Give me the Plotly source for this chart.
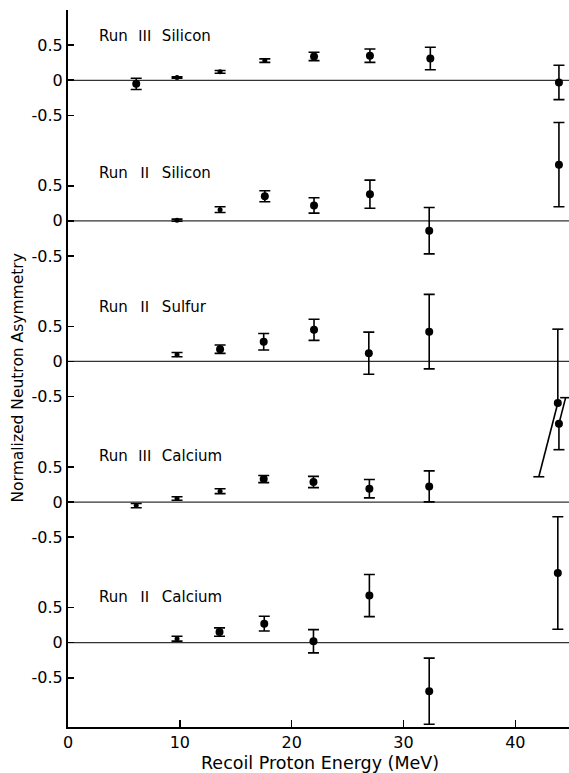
import plotly.graph_objects as go

# ---------------- data ----------------
NUM = "<span style=\"font-family:'Noto Sans CJK JP'\">{}</span>"
panel_labels = ["Run\u00a0\u00a0" + NUM.format("Ⅲ") + "\u00a0\u00a0Silicon",
                "Run\u00a0\u00a0" + NUM.format("Ⅱ") + "\u00a0\u00a0Silicon",
                "Run\u00a0\u00a0" + NUM.format("Ⅱ") + "\u00a0\u00a0Sulfur",
                "Run\u00a0\u00a0" + NUM.format("Ⅲ") + "\u00a0\u00a0Calcium",
                "Run\u00a0\u00a0" + NUM.format("Ⅱ") + "\u00a0\u00a0Calcium"]
panel_offsets = [8, 6, 4, 2, 0]          # vertical stacking offset of each panel's zero
label_heights = [0.65, 0.70, 0.80, 0.68, 0.67]

si3_energy = [6.1, 9.75, 13.6, 17.6, 22.0, 27.0, 32.4, 43.9]
si3_asym = [-0.05, 0.04, 0.12, 0.28, 0.34, 0.35, 0.31, -0.03]
si3_err = [0.08, 0.01, 0.02, 0.025, 0.06, 0.095, 0.16, 0.245]

si2_energy = [9.75, 13.6, 17.6, 22.0, 27.0, 32.3, 43.9]
si2_asym = [0.01, 0.16, 0.35, 0.22, 0.38, -0.14, 0.80]
si2_err = [0.015, 0.04, 0.078, 0.11, 0.20, 0.33, 0.60]

s2_energy = [9.75, 13.6, 17.5, 22.0, 26.9, 32.3, 43.8]
s2_asym = [0.097, 0.175, 0.28, 0.45, 0.118, 0.424, -0.59]
s2_err = [0.03, 0.06, 0.117, 0.15, 0.30, 0.53, 1.05]

ca3_energy = [6.1, 9.75, 13.6, 17.5, 21.95, 26.95, 32.3, 43.9]
ca3_asym = [-0.05, 0.05, 0.155, 0.327, 0.285, 0.19, 0.223, 1.115]
ca3_err = [0.03, 0.025, 0.035, 0.05, 0.08, 0.13, 0.22, 0.37]

ca2_energy = [9.75, 13.55, 17.55, 21.95, 26.95, 32.3, 43.8]
ca2_asym = [0.057, 0.15, 0.27, 0.02, 0.67, -0.69, 0.99]
ca2_err = [0.035, 0.06, 0.105, 0.165, 0.30, 0.47, 0.80]

# error bars drawn displaced (slanted) in the crowded corner:
# (panel index, point index, side, energy at which the bar ends)
slant_bars = [(2, 6, "minus", 42.1), (3, 7, "plus", 44.5)]

x_ticks = [0, 10, 20, 30, 40]
x_range = [0, 44.8]
y_range = [-1.2, 9.0]

panels = [(si3_energy, si3_asym, si3_err), (si2_energy, si2_asym, si2_err),
          (s2_energy, s2_asym, s2_err), (ca3_energy, ca3_asym, ca3_err),
          (ca2_energy, ca2_asym, ca2_err)]

# ---------------- layout geometry ----------------
W, H = 569, 773
ML, MR, MT, MB = 68, 0, 10, 46
plot_w = W - ML - MR
plot_h = H - MT - MB
px_per_x = plot_w / (x_range[1] - x_range[0])
px_per_y = plot_h / (y_range[1] - y_range[0])
CAP = 5.5  # half cap width, px
cap_dx = CAP / px_per_x

INK = "#000000"
FONT = "DejaVu Sans"

fig = go.Figure()

# zero reference lines
for off in panel_offsets:
    fig.add_shape(type="line", xref="paper", x0=0, x1=1, yref="y", y0=off, y1=off,
                  line=dict(color="#333333", width=1.3), layer="below")

slant_lookup = {(p, i): (side, xe) for p, i, side, xe in slant_bars}

for p, ((xs, ys, es), off) in enumerate(zip(panels, panel_offsets)):
    nx, ny, ne, ns = [], [], [], []
    for i, (x, y, e) in enumerate(zip(xs, ys, es)):
        yy = y + off
        if (p, i) in slant_lookup:
            side, xe = slant_lookup[(p, i)]
            if side == "minus":
                straight_end, slant_end = yy + e, yy - e
            else:
                straight_end, slant_end = yy - e, yy + e
            segx = [x, x, None, x - cap_dx, x + cap_dx, None,
                    x, xe, None, xe - cap_dx, xe + cap_dx]
            segy = [yy, straight_end, None, straight_end, straight_end, None,
                    yy, slant_end, None, slant_end, slant_end]
            fig.add_trace(go.Scatter(x=segx, y=segy, mode="lines",
                                     line=dict(color=INK, width=1.6),
                                     showlegend=False, hoverinfo="skip", cliponaxis=False))
            fig.add_trace(go.Scatter(x=[x], y=[yy], mode="markers",
                                     marker=dict(color=INK, size=8, opacity=1,
                                                 line=dict(width=0)),
                                     showlegend=False, cliponaxis=False))
        else:
            nx.append(x)
            ny.append(yy)
            ne.append(e)
            ns.append(8 if e * px_per_y >= 3.5 else 5)
    # error bars
    fig.add_trace(go.Scatter(
        x=nx, y=ny, mode="markers",
        marker=dict(color="rgba(0,0,0,0)", size=1),
        error_y=dict(type="data", array=ne, visible=True, color=INK,
                     thickness=1.6, width=CAP),
        showlegend=False, hoverinfo="skip", cliponaxis=False))
    # data points on top
    fig.add_trace(go.Scatter(
        x=nx, y=ny, mode="markers",
        marker=dict(color=INK, size=ns, symbol="circle", opacity=1,
                    line=dict(width=0)),
        showlegend=False, cliponaxis=False))

# panel labels
for lab, off, h in zip(panel_labels, panel_offsets, label_heights):
    fig.add_annotation(x=2.63, y=off + h, xref="x", yref="y", text=lab,
                       showarrow=False, xanchor="left", yanchor="middle",
                       font=dict(family=FONT, size=15, color=INK))

# y ticks
y_tickvals, y_ticktext = [], []
for off in panel_offsets:
    y_tickvals += [off + 0.5, off, off - 0.5]
    y_ticktext += ["0.5", "0", "-0.5"]
y_tickvals.append(panel_offsets[0] + 1.0)
y_ticktext.append("")

fig.update_layout(
    width=W, height=H,
    margin=dict(l=ML, r=MR, t=MT, b=MB, autoexpand=False),
    paper_bgcolor="white", plot_bgcolor="white",
    font=dict(family=FONT, color=INK),
    xaxis=dict(range=x_range, tickvals=x_ticks, ticktext=[str(t) for t in x_ticks],
               ticks="inside", ticklen=7, tickwidth=1.6, tickcolor=INK,
               showline=True, linecolor=INK, linewidth=2, showgrid=False,
               zeroline=False, tickfont=dict(family=FONT, size=16, color=INK),
               automargin=False),
    yaxis=dict(range=y_range, tickvals=y_tickvals, ticktext=y_ticktext,
               ticks="inside", ticklen=6, tickwidth=1.6, tickcolor=INK,
               showline=True, linecolor=INK, linewidth=2, showgrid=False,
               zeroline=False, tickfont=dict(family=FONT, size=16, color=INK),
               automargin=False),
)

fig.add_annotation(xref="paper", yref="paper", x=(320 - ML) / plot_w,
                   y=-(763 - (H - MB)) / plot_h, text="Recoil Proton Energy (MeV)",
                   showarrow=False, xanchor="center", yanchor="middle",
                   font=dict(family=FONT, size=17.5, color=INK))
fig.add_annotation(xref="paper", yref="paper", x=-(ML - 17.5) / plot_w,
                   y=((H - MB) - 378) / plot_h, text="Normalized Neutron Asymmetry",
                   textangle=-90, showarrow=False, xanchor="center", yanchor="middle",
                   font=dict(family=FONT, size=15.5, color=INK))

fig.write_html("out.html", config={"displayModeBar": False, "staticPlot": True},
               post_script="document.body.style.margin='0';"
                           "document.documentElement.style.overflow='hidden';")
